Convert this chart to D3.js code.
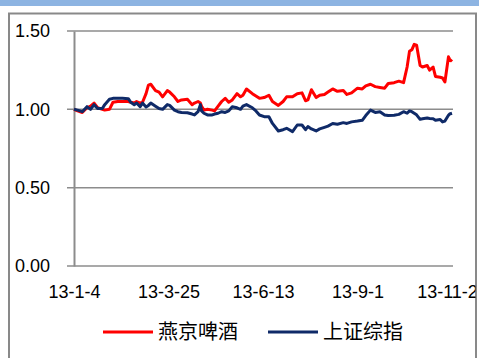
<!DOCTYPE html>
<html>
<head>
<meta charset="utf-8">
<script src="https://cdn.jsdelivr.net/npm/d3@7"></script>
<style>
  html, body { margin: 0; padding: 0; background: #fff; }
  svg { display: block; }
</style>
</head>
<body>
<div class="chart"></div>
<script>
const width = 479;
const height = 358;

// data
const seriesNames = ["燕京啤酒", "上证综指"];
const seriesColors = ["#ff0000", "#0f2a68"];

const dates = [
  "2013-01-04","2013-01-07","2013-01-11","2013-01-15","2013-01-18","2013-01-21","2013-01-24","2013-01-28","2013-01-30",
  "2013-02-03","2013-02-06","2013-02-10","2013-02-14","2013-02-19","2013-02-21","2013-02-24","2013-02-26",
  "2013-03-01","2013-03-03","2013-03-06","2013-03-08","2013-03-10","2013-03-14","2013-03-17","2013-03-20","2013-03-24","2013-03-26","2013-03-30",
  "2013-04-02","2013-04-05","2013-04-10","2013-04-14","2013-04-16","2013-04-19","2013-04-21","2013-04-22","2013-04-24","2013-04-27",
  "2013-05-01","2013-05-03","2013-05-06","2013-05-09","2013-05-12","2013-05-15","2013-05-18","2013-05-22","2013-05-25","2013-05-27","2013-05-30",
  "2013-06-04","2013-06-07","2013-06-10","2013-06-14","2013-06-18","2013-06-21","2013-06-26","2013-06-30",
  "2013-07-03","2013-07-08","2013-07-12","2013-07-16","2013-07-19","2013-07-21","2013-07-24","2013-07-28","2013-07-31",
  "2013-08-04","2013-08-07","2013-08-11","2013-08-15","2013-08-20","2013-08-23","2013-08-27",
  "2013-09-01","2013-09-05","2013-09-08","2013-09-12","2013-09-16","2013-09-20","2013-09-24","2013-09-27",
  "2013-10-02","2013-10-06","2013-10-10","2013-10-13","2013-10-15","2013-10-17","2013-10-19","2013-10-21","2013-10-24","2013-10-26","2013-10-30",
  "2013-11-01","2013-11-04","2013-11-06","2013-11-10","2013-11-12","2013-11-14","2013-11-17","2013-11-18","2013-11-20"
];

const yanjing = [
  1.00,0.99,0.98,1.01,1.02,1.04,1.01,1.00,0.995,
  1.00,1.045,1.05,1.05,1.05,1.045,1.04,1.05,
  1.04,1.045,1.10,1.155,1.16,1.12,1.11,1.08,1.12,1.11,1.08,
  1.05,1.06,1.064,1.03,1.04,1.05,1.04,1.02,0.995,1.00,
  0.995,0.99,1.02,1.05,1.07,1.045,1.06,1.10,1.08,1.09,1.13,
  1.10,1.085,1.07,1.075,1.09,1.05,1.025,1.05,
  1.08,1.08,1.10,1.105,1.055,1.06,1.125,1.075,1.09,
  1.095,1.11,1.13,1.115,1.12,1.095,1.105,
  1.135,1.13,1.15,1.16,1.145,1.14,1.135,1.165,
  1.17,1.18,1.17,1.27,1.37,1.38,1.415,1.41,1.28,1.27,1.28,
  1.25,1.27,1.21,1.205,1.20,1.175,1.335,1.32,1.305
];

const shIndex = [
  1.00,0.995,0.985,1.017,1.00,1.03,1.005,1.005,1.03,
  1.064,1.07,1.07,1.07,1.068,1.045,1.03,1.04,
  1.017,1.04,1.015,1.025,1.04,1.02,1.005,1.00,1.03,1.025,0.995,
  0.985,0.98,0.978,0.97,0.964,0.985,1.03,0.99,0.975,0.964,
  0.964,0.97,0.975,0.985,0.98,0.99,1.017,1.01,1.00,1.02,1.03,
  1.01,0.99,0.964,0.953,0.953,0.91,0.862,0.87,
  0.879,0.858,0.90,0.90,0.87,0.89,0.875,0.862,0.875,
  0.885,0.893,0.91,0.905,0.915,0.91,0.92,
  0.925,0.93,0.96,0.995,0.98,0.985,0.964,0.96,
  0.962,0.968,0.985,0.975,0.99,0.985,0.975,0.965,0.936,0.94,0.945,
  0.942,0.94,0.93,0.935,0.92,0.925,0.962,0.97,0.975
];

const yTicks = [0, 0.5, 1.0, 1.5];
const xTickDates = ["2013-01-04","2013-03-25","2013-06-13","2013-09-01","2013-11-20"];
const xTickLabels = ["13-1-4","13-3-25","13-6-13","13-9-1","13-11-20"];

const parse = d3.timeParse("%Y-%m-%d");

const svg = d3.select(".chart")
  .append("svg")
  .attr("width", width)
  .attr("height", height);

// top band + frame
svg.append("rect").attr("x", 0).attr("y", 0).attr("width", width).attr("height", 6).attr("fill", "#8db4e2");
svg.append("rect")
  .attr("x", 9).attr("y", 13.5)
  .attr("width", 467).attr("height", 360)
  .attr("fill", "#fff")
  .attr("stroke", "#898989")
  .attr("stroke-width", 2);

svg.append("clipPath").attr("id", "frameClip")
  .append("rect").attr("x", 10).attr("y", 14).attr("width", 465.5).attr("height", 350);

const x = d3.scaleTime()
  .domain([parse(xTickDates[0]), parse(xTickDates[xTickDates.length - 1])])
  .range([74, 452]);

const y = d3.scaleLinear()
  .domain([0, 1.5])
  .range([266, 31]);

const font = "'Liberation Sans', Arial, sans-serif";

// gridlines
svg.append("g")
  .selectAll("line")
  .data(yTicks.filter(d => d > 0))
  .enter()
  .append("line")
  .attr("x1", 67).attr("x2", 453)
  .attr("y1", d => y(d)).attr("y2", d => y(d))
  .attr("stroke", "#8c8c8c")
  .attr("stroke-width", 1.5);

// y axis
const yAxis = svg.append("g")
  .attr("transform", "translate(74,0)")
  .call(d3.axisLeft(y).tickValues(yTicks).tickSize(0).tickPadding(24).tickFormat(d3.format(".2f")));
yAxis.select(".domain").attr("stroke", "#8c8c8c").attr("stroke-width", 2);
yAxis.selectAll("text")
  .attr("font-family", font)
  .attr("font-size", 18)
  .attr("fill", "#000");

// x axis
const labelByDate = new Map(xTickDates.map((d, i) => [+parse(d), xTickLabels[i]]));
const xAxis = svg.append("g")
  .attr("transform", "translate(0,266)")
  .attr("clip-path", "url(#frameClip)")
  .call(d3.axisBottom(x)
    .tickValues(xTickDates.map(parse))
    .tickSize(6)
    .tickSizeOuter(0)
    .tickPadding(13)
    .tickFormat(d => labelByDate.get(+d)));
xAxis.select(".domain").remove();
xAxis.selectAll(".tick line").attr("stroke", "#8c8c8c").attr("stroke-width", 1.5);
xAxis.selectAll("text")
  .attr("font-family", font)
  .attr("font-size", 18)
  .attr("fill", "#000");

// x baseline
svg.append("line")
  .attr("x1", 67).attr("x2", 453)
  .attr("y1", y(0)).attr("y2", y(0))
  .attr("stroke", "#8c8c8c")
  .attr("stroke-width", 1.5);

// lines
const line = d3.line()
  .x((d, i) => x(parse(dates[i])))
  .y(d => y(d));

[yanjing, shIndex].forEach(function(values, k) {
  svg.append("path")
    .datum(values)
    .attr("fill", "none")
    .attr("stroke", seriesColors[k])
    .attr("stroke-width", 3)
    .attr("stroke-linejoin", "round")
    .attr("d", line);
});

// legend
const legendX = [103, 268];
const legend = svg.append("g")
  .selectAll("g")
  .data(seriesNames)
  .enter()
  .append("g")
  .attr("transform", (d, i) => "translate(" + legendX[i] + ",332)");
legend.append("line")
  .attr("x1", 0).attr("x2", 50)
  .attr("stroke", (d, i) => seriesColors[i])
  .attr("stroke-width", 3);
legend.append("text")
  .attr("x", 55)
  .attr("y", -2)
  .attr("dominant-baseline", "central")
  .attr("font-family", "'Noto Sans CJK SC', sans-serif")
  .attr("font-size", 20)
  .attr("fill", "#000")
  .text(d => d);
</script>
</body>
</html>
